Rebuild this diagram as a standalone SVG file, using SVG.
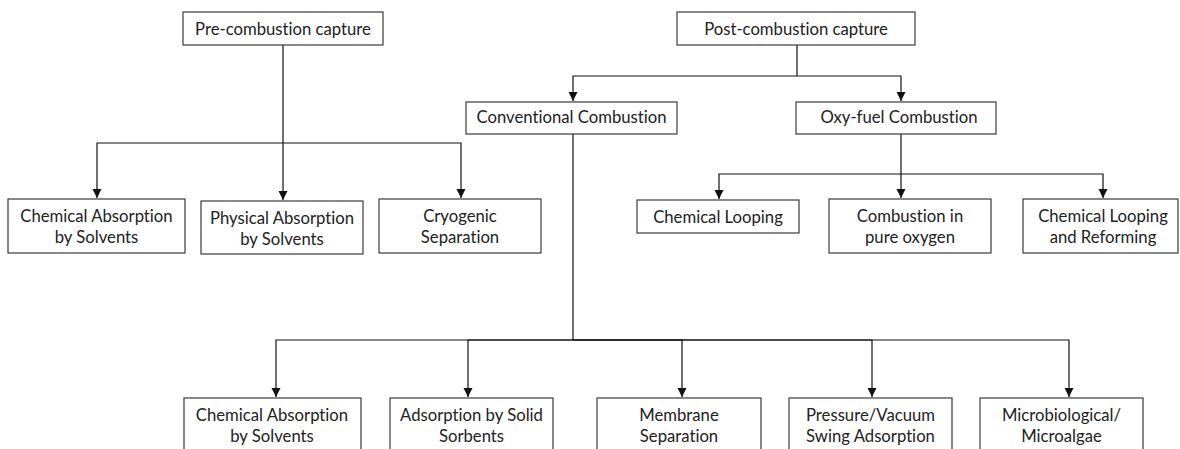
<svg xmlns="http://www.w3.org/2000/svg" width="1180" height="449" viewBox="0 0 1180 449">
<defs>
<style>
.box{fill:#fff;stroke:#3a3a3a;stroke-width:1.2}
.lbl{font-family:Lato,"Open Sans","Liberation Sans",sans-serif;font-size:16.7px;fill:#222;text-anchor:middle;font-variant-ligatures:none;font-feature-settings:"liga" 0,"dlig" 0}
.con{fill:none;stroke:#111;stroke-width:1.2}
</style>
<marker id="ah" markerUnits="userSpaceOnUse" markerWidth="9" markerHeight="10" refX="9" refY="4.5" orient="auto" viewBox="0 0 9 9">
<path d="M0,0 L9,4.5 L0,9 z" fill="#111"/>
</marker>
</defs>
<rect width="1180" height="449" fill="#fff"/>
<g id="connectors">
<path class="con" d="M283,45 V143"/>
<path class="con" d="M283,143 H97 V198" marker-end="url(#ah)"/>
<path class="con" d="M283,143 V200" marker-end="url(#ah)"/>
<path class="con" d="M283,143 H461 V198" marker-end="url(#ah)"/>
<path class="con" d="M797,45 V76"/>
<path class="con" d="M797,76 H573 V101" marker-end="url(#ah)"/>
<path class="con" d="M797,76 H901 V101" marker-end="url(#ah)"/>
<path class="con" d="M901,134 V174"/>
<path class="con" d="M901,174 H719 V199" marker-end="url(#ah)"/>
<path class="con" d="M901,174 V198" marker-end="url(#ah)"/>
<path class="con" d="M901,174 H1103 V198" marker-end="url(#ah)"/>
<path class="con" d="M573,134 V340"/>
<path class="con" d="M573,340 H276 V397" marker-end="url(#ah)"/>
<path class="con" d="M573,340 H468 V397" marker-end="url(#ah)"/>
<path class="con" d="M573,340 H682 V397" marker-end="url(#ah)"/>
<path class="con" d="M573,340 H872 V397" marker-end="url(#ah)"/>
<path class="con" d="M573,340 H1069 V397" marker-end="url(#ah)"/>
</g>
<g id="pre">
<rect class="box" x="183" y="12" width="200" height="33"/>
<text class="lbl" x="283" y="35">Pre-combustion capture</text>
</g>
<g id="post">
<rect class="box" x="677" y="12" width="238" height="33"/>
<text class="lbl" x="796" y="35">Post-combustion capture</text>
</g>
<g id="conventional">
<rect class="box" x="466" y="102" width="211" height="32"/>
<text class="lbl" x="571.5" y="123">Conventional Combustion</text>
</g>
<g id="oxyfuel">
<rect class="box" x="796" y="102" width="200" height="32"/>
<text class="lbl" x="899" y="123">Oxy-fuel Combustion</text>
</g>
<g id="pre-chem">
<rect class="box" x="8" y="199" width="177" height="54"/>
<text class="lbl" x="96.5" y="222">Chemical Absorption</text>
<text class="lbl" x="96.5" y="243">by Solvents</text>
</g>
<g id="pre-phys">
<rect class="box" x="201" y="201" width="162" height="53"/>
<text class="lbl" x="282" y="224">Physical Absorption</text>
<text class="lbl" x="282" y="245">by Solvents</text>
</g>
<g id="pre-cryo">
<rect class="box" x="379" y="199" width="162" height="54"/>
<text class="lbl" x="460" y="222">Cryogenic</text>
<text class="lbl" x="460" y="243">Separation</text>
</g>
<g id="oxy-looping">
<rect class="box" x="637" y="200" width="162" height="33"/>
<text class="lbl" x="718" y="223">Chemical Looping</text>
</g>
<g id="oxy-pure">
<rect class="box" x="829" y="199" width="162" height="54"/>
<text class="lbl" x="910" y="222">Combustion in</text>
<text class="lbl" x="910" y="243">pure oxygen</text>
</g>
<g id="oxy-reforming">
<rect class="box" x="1023" y="199" width="155" height="54"/>
<text class="lbl" x="1103" y="222">Chemical Looping</text>
<text class="lbl" x="1103" y="243">and Reforming</text>
</g>
<g id="conv-chem">
<rect class="box" x="184" y="398" width="177" height="60"/>
<text class="lbl" x="272" y="421">Chemical Absorption</text>
<text class="lbl" x="272" y="442">by Solvents</text>
</g>
<g id="conv-adsorption">
<rect class="box" x="390" y="398" width="163" height="60"/>
<text class="lbl" x="471.5" y="421">Adsorption by Solid</text>
<text class="lbl" x="471.5" y="442">Sorbents</text>
</g>
<g id="conv-membrane">
<rect class="box" x="597" y="398" width="164" height="60"/>
<text class="lbl" x="679" y="421">Membrane</text>
<text class="lbl" x="679" y="442">Separation</text>
</g>
<g id="conv-pressure">
<rect class="box" x="789" y="398" width="163" height="60"/>
<text class="lbl" x="870.5" y="421">Pressure/Vacuum</text>
<text class="lbl" x="870.5" y="442">Swing Adsorption</text>
</g>
<g id="conv-micro">
<rect class="box" x="980" y="398" width="163" height="60"/>
<text class="lbl" x="1061.5" y="421">Microbiological/</text>
<text class="lbl" x="1061.5" y="442">Microalgae</text>
</g>
</svg>
